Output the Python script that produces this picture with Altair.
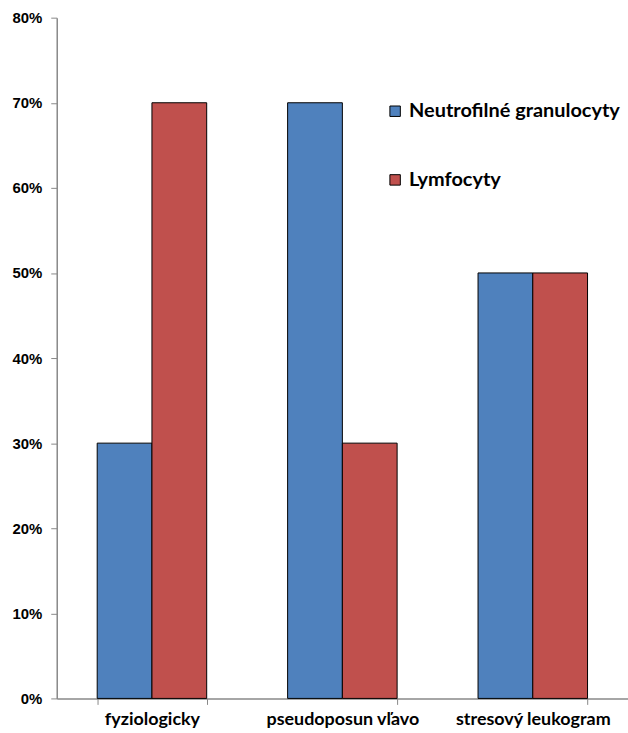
import altair as alt
import pandas as pd

categories = ["fyziologicky", "pseudoposun vľavo", "stresový leukogram"]
series = ["Neutrofilné granulocyty", "Lymfocyty"]
neutro = [0.30, 0.70, 0.50]
lymfo = [0.70, 0.30, 0.50]
colors = ["#4F81BD", "#C0504D"]

rows = []
for c, n, l in zip(categories, neutro, lymfo):
    rows.append({"cat": c, "series": series[0], "value": n})
    rows.append({"cat": c, "series": series[1], "value": l})
df = pd.DataFrame(rows)

chart = alt.Chart(df).mark_bar(stroke="black", strokeWidth=1).encode(
    x=alt.X("cat:N", sort=categories, title=None,
            scale=alt.Scale(paddingInner=0.425, paddingOuter=0.2125),
            axis=alt.Axis(labelAngle=0, labelFont="Lato", labelFontWeight="bold",
                          labelFontSize=18, labelColor="black", labelPadding=6,
                          tickBand="extent", tickSize=6, tickColor="#888",
                          domainColor="#888", domainWidth=1.5)),
    xOffset=alt.XOffset("series:N", sort=series),
    y=alt.Y("value:Q", title=None,
            scale=alt.Scale(domain=[0, 0.8], nice=False),
            axis=alt.Axis(format=".0%", values=[0, 0.1, 0.2, 0.3, 0.4, 0.5, 0.6, 0.7, 0.8],
                          grid=False, labelFont="Liberation Sans", labelFontWeight="bold",
                          labelFontSize=15, labelColor="black", labelPadding=9,
                          tickSize=6, tickColor="#888", domainColor="#888", domainWidth=1.5)),
    color=alt.Color("series:N", sort=series,
                    scale=alt.Scale(domain=series, range=colors),
                    legend=alt.Legend(title=None, orient="none", legendX=330, legendY=84,
                                      symbolType="square", symbolSize=110,
                                      symbolStrokeColor="black", symbolStrokeWidth=1,
                                      labelFont="Lato", labelFontWeight="bold",
                                      labelFontSize=20, labelColor="black",
                                      rowPadding=49, labelLimit=300)),
).properties(
    width=574, height=684,
    autosize=alt.AutoSizeParams(type="none"),
    padding={"left": 57, "top": 16, "right": 0, "bottom": 33},
).configure_view(stroke=None)

chart.save("out.html", embed_options={"renderer": "svg", "actions": False})
